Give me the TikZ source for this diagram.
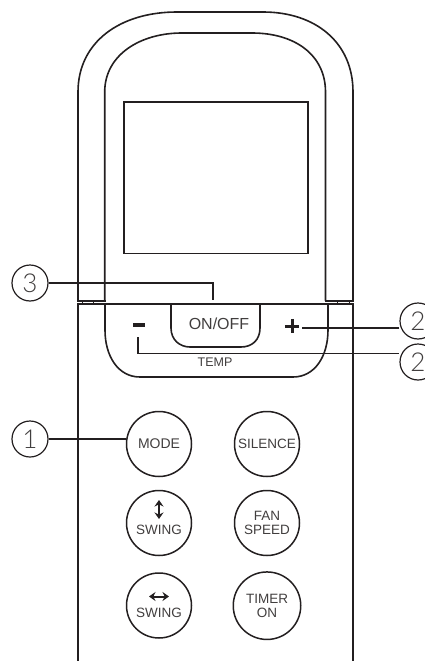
\documentclass[tikz,border=0pt]{standalone}
\usepackage{fontspec}
\setmainfont{Liberation Sans}
\newfontfamily\thinfont{Lato Light}
\usetikzlibrary{arrows.meta, positioning, calc}
\definecolor{linedark}{RGB}{35, 31, 32}
\definecolor{labelgray}{RGB}{65, 62, 62}
\tikzset{
    outline/.style={draw=linedark, line width=1.6pt},
    leader/.style={draw=linedark, line width=1.3pt},
    swingarr/.style={{Stealth[length=6.5pt,width=9pt]}-{Stealth[length=6.5pt,width=9pt]},
                     line width=2pt, draw=linedark},
    callout/.style={circle, draw=linedark, line width=1.2pt, minimum size=36pt,
                    inner sep=0pt, font=\thinfont\fontsize{26}{26}\selectfont, text=labelgray},
    keybtn/.style={circle, draw=linedark, line width=1.5pt, minimum size=65pt,
                   inner sep=0pt, align=center, text=labelgray,
                   font=\fontsize{13.5}{14}\selectfont},
    keytext/.style={inner sep=0pt, text=labelgray, font=\fontsize{13.5}{14}\selectfont},
}
\begin{document}
\begin{tikzpicture}[x=1pt, y=-1pt]
    \useasboundingbox (0,0) rectangle (425,661);

    % Housing
    \draw[outline] (77.7,661) -- (77.7,304);
    \draw[outline] (353,661) -- (353,304);
    \draw[outline] (78,300.7) -- (78,92) .. controls (78,42) and (120,12) .. (177,12)
        -- (263,12) .. controls (315,12) and (353,42) .. (353,92) -- (353,300.7);
    \draw[outline] (104.7,300.7) -- (104.7,92) .. controls (104.7,55) and (140,33) .. (182,33)
        -- (252,33) .. controls (295,33) and (325.5,55) .. (325.5,92) -- (325.5,300.7);
    \draw[outline] (77.2,300.7) -- (105.5,300.7);
    \draw[outline] (324.7,300.7) -- (353.8,300.7);
    \draw[outline] (77,304) -- (353.8,304);

    % Joint ticks
    \foreach \tickx in {82,93,337,349}
        \draw[draw=linedark, line width=1pt] (\tickx,300.7) -- (\tickx,304);

    % Screen
    \draw[outline] (124,102) rectangle (308,253.5);

    % Temp panel
    \draw[outline] (105,304) -- (105,330) .. controls (105,356) and (118,377) .. (140,377)
        -- (293,377) .. controls (315,377) and (328,356) .. (328,330) -- (328,304);
    \draw[outline] (171,304) -- (171,328) .. controls (171,340) and (180,347) .. (190,347)
        -- (241,347) .. controls (252,347) and (260,340) .. (260,328) -- (260,304);

    \node[keytext, font=\fontsize{16}{16}\selectfont] (onoff) at (219,324) {ON/OFF};
    \node[keytext, font=\fontsize{12.5}{13}\selectfont] (temp) at (215,362) {TEMP};
    \node[fill=linedark, minimum width=12pt, minimum height=4.5pt, inner sep=0pt] (minus) at (139,325) {};
    \node[inner sep=0pt, minimum size=14pt] (plus) at (292,326) {};
    \draw[line width=3pt, draw=linedark] (plus.west) -- (plus.east);
    \draw[line width=3pt, draw=linedark] (plus.north) -- (plus.south);

    % Keys
    \node[keybtn, font=\fontsize{14}{14}\selectfont] (mode) at (159,444) {MODE};
    \node[keybtn, font=\fontsize{13.5}{14}\selectfont] (silence) at (267,444) {SILENCE};
    \node[keybtn] (swingv) at (159,523) {};
    \node[keybtn] (fan) at (267,523) {FAN\\SPEED};
    \node[keybtn] (swingh) at (159,605.5) {};
    \node[keybtn, minimum size=67.5pt] (timer) at (267,605.7) {TIMER\\ON};
    \node[keytext] (swingvtext) at ($(swingv)+(0,7)$) {SWING};
    \node[keytext] (swinghtext) at ($(swingh)+(0,7.5)$) {SWING};
    \draw[swingarr] ($(swingv)+(0,-23)$) -- ($(swingv)+(0,-4)$);
    \draw[swingarr] ($(swingh)+(-10,-9)$) -- ($(swingh)+(10,-9)$);

    % Callouts
    \node[callout] (c3) at (30,283) {3};
    \node[callout] (c2a) at (418,321) {2};
    \node[callout] (c2b) at (418,362) {2};
    \node[callout] (c1) at (30,439) {1};
    \coordinate (c3end) at (213,300);
    \coordinate (plusend) at (302,328);
    \coordinate (minusend) at (138,337);
    \coordinate (minusbend) at (138,353.5);

    \draw[leader] (c3.east) -- (c3end |- c3.east) -- (c3end);
    \draw[leader] (c2a.west |- plusend) -- (plusend);
    \draw[leader] (minusend) -- (minusbend) -- (c2b.west |- minusbend);
    \draw[leader] (c1.east) -- (mode.west |- c1.east);
\end{tikzpicture}
\end{document}
